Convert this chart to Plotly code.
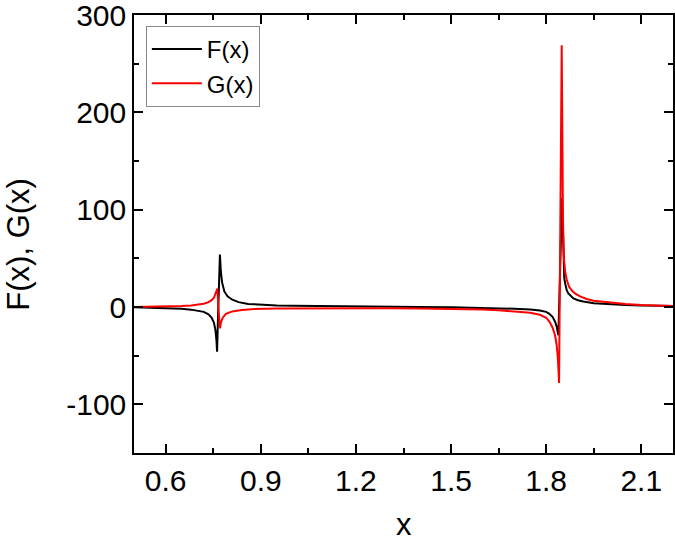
import plotly.graph_objects as go

# ---- data ----
x_f = [0.50, 0.55, 0.60, 0.65, 0.68, 0.70, 0.72, 0.735, 0.745, 0.752,
       0.757, 0.760, 0.762, 0.765, 0.768, 0.771, 0.774, 0.778, 0.785, 0.795,
       0.81, 0.83, 0.86, 0.90, 0.95, 1.00, 1.10, 1.20, 1.30, 1.40,
       1.50, 1.60, 1.65, 1.70, 1.75, 1.78, 1.80, 1.81, 1.82, 1.828,
       1.833, 1.837, 1.8385, 1.850, 1.854, 1.857, 1.860, 1.865, 1.870,
       1.878, 1.886, 1.90, 1.917, 1.95, 1.97, 2.0, 2.05, 2.1, 2.15, 2.2]
f_vals = [-0.3, -0.6, -1.1, -1.9, -2.7, -3.6, -5.0, -7.5, -11, -16,
          -24, -34, -46, -10, 30, 54, 36, 25, 16, 11,
          7.5, 5, 3.2, 2.2, 1.6, 1.2, 0.7, 0.4, 0.2, 0,
          -0.3, -0.9, -1.3, -1.8, -2.6, -3.5, -5, -7, -10, -15,
          -20, -26, -29, 112, 52, 30, 24, 17, 14,
          11, 8.8, 7, 5.6, 3.9, 3.4, 2.8, 2.1, 1.6, 1.2, 1.0]

x_g = [0.50, 0.55, 0.60, 0.65, 0.68, 0.70, 0.72, 0.735, 0.745, 0.752,
       0.757, 0.761, 0.763, 0.766, 0.769, 0.771, 0.775, 0.780, 0.790, 0.81,
       0.84, 0.88, 0.95, 1.00, 1.10, 1.20, 1.30, 1.40, 1.50, 1.60,
       1.65, 1.70, 1.75, 1.78, 1.80, 1.81, 1.82, 1.828, 1.833, 1.837,
       1.8407, 1.849, 1.851, 1.853, 1.856, 1.860, 1.865, 1.872, 1.881, 1.893,
       1.907, 1.93, 1.95, 2.0, 2.05, 2.1, 2.15, 2.2]
g_vals = [0.0, 0.2, 0.4, 1.0, 1.6, 2.4, 3.4, 5.0, 7.0, 9.5,
          13, 17, 19, 0, -17, -22, -15, -11, -7, -4.5,
          -3, -2, -1.4, -1.3, -1.2, -1.2, -1.3, -1.5, -1.8, -2.6,
          -3.3, -4.3, -6, -8, -11, -15, -21, -29, -39, -53,
          -78, 269, 150, 90, 50, 36, 28, 21, 17, 13.5,
          11, 8, 6.5, 4.5, 3.2, 2.2, 1.5, 1.0]

x_ticks = [0.6, 0.9, 1.2, 1.5, 1.8, 2.1]
x_tick_labels = ["0.6", "0.9", "1.2", "1.5", "1.8", "2.1"]
y_ticks = [-100, 0, 100, 200, 300]
y_tick_labels = ["-100", "0", "100", "200", "300"]

FONT = "Arial, Liberation Sans, sans-serif"

fig = go.Figure()
fig.add_trace(go.Scatter(x=x_f, y=f_vals, mode="lines", name="F(x)",
                         line=dict(color="#000000", width=2)))
fig.add_trace(go.Scatter(x=x_g, y=g_vals, mode="lines", name="G(x)",
                         line=dict(color="#ff0000", width=2)))

axis_common = dict(
    showgrid=False, zeroline=False, showline=True, linecolor="black",
    linewidth=1.5, mirror="allticks", ticks="inside", ticklen=9,
    tickwidth=1.5, tickcolor="black", ticklabeloverflow="allow",
    tickfont=dict(family=FONT, size=30, color="black"),
)

fig.update_xaxes(range=[0.5, 2.2], tickvals=x_ticks, ticktext=x_tick_labels,
                 minor=dict(ticks="inside", ticklen=5, tickwidth=1.5,
                            tickcolor="black", dtick=0.15, tick0=0.45),
                 **axis_common)
fig.update_yaxes(range=[-150, 300.05], tickvals=y_ticks, ticktext=y_tick_labels,
                 minor=dict(ticks="inside", ticklen=5, tickwidth=1.5,
                            tickcolor="black", dtick=50, tick0=-150),
                 **axis_common)

fig.add_annotation(text="x", xref="paper", yref="paper", x=0.5, y=-0.163,
                   xanchor="center", yanchor="middle", showarrow=False,
                   font=dict(family=FONT, size=31, color="black"))
fig.add_annotation(text="F(x), G(x)", xref="paper", yref="paper", x=-0.216,
                   y=0.477, xanchor="center", yanchor="middle", textangle=-90,
                   showarrow=False, font=dict(family=FONT, size=31, color="black"))

fig.update_layout(
    width=675, height=542,
    margin=dict(l=134, r=2, t=15, b=89, autoexpand=False),
    paper_bgcolor="white", plot_bgcolor="white",
    showlegend=True,
    legend=dict(x=0.022, y=0.975, xanchor="left", yanchor="top",
                bgcolor="white", bordercolor="#888888", borderwidth=1,
                font=dict(family=FONT, size=24, color="black"),
                tracegroupgap=0, itemwidth=50),
)

fig.write_html("out.html", config={"displayModeBar": False},
               post_script="document.body.style.margin='0px';")
